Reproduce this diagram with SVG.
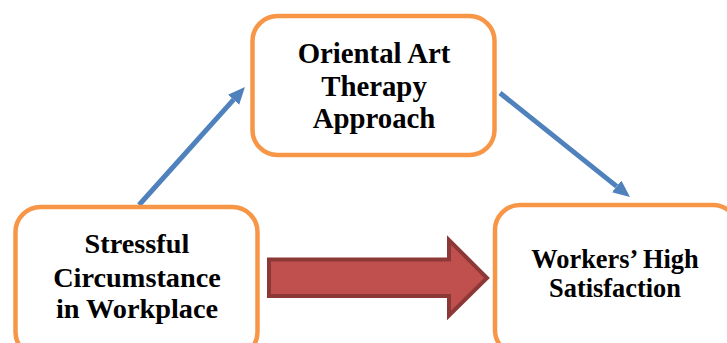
<svg xmlns="http://www.w3.org/2000/svg" width="727" height="343" viewBox="0 0 727 343">
<style>
.box{fill:#fff;stroke:#F79646;stroke-width:4.5}
.t{font-family:'Liberation Serif', 'Times New Roman', serif;font-weight:700;fill:#000;text-anchor:middle}
.blue{stroke:#4F81BD;stroke-width:5;fill:none}
</style>
<defs>
<marker id="ah" markerUnits="userSpaceOnUse" markerWidth="18" markerHeight="16" refX="0" refY="7.5" orient="auto">
<path d="M0,0 L17,7.5 L0,15 z" fill="#4F81BD"/>
</marker>
</defs>
<rect width="727" height="343" fill="#fff"/>
<g id="connectors">
<line class="blue" x1="139" y1="205" x2="233.6" y2="99.7" marker-end="url(#ah)"/>
<line class="blue" x1="500" y1="93" x2="616.7" y2="186.4" marker-end="url(#ah)"/>
<polygon points="269,259.5 449,259.5 449,240 487,278 449,315.5 449,296 269,296" fill="#C0504D" stroke="#8C3836" stroke-width="4" stroke-linejoin="miter"/>
</g>
<g id="node-oriental">
<rect class="box" x="252.5" y="16" width="242" height="139" rx="25"/>
<text class="t" font-size="28.8" x="374" y="63">Oriental Art</text>
<text class="t" font-size="28.8" x="374" y="96">Therapy</text>
<text class="t" font-size="28.8" x="374" y="128">Approach</text>
</g>
<g id="node-stressful">
<rect class="box" x="15.5" y="207" width="242" height="150" rx="25"/>
<text class="t" font-size="28.3" x="137" y="253">Stressful</text>
<text class="t" font-size="28.3" x="137" y="287">Circumstance</text>
<text class="t" font-size="28.3" x="137" y="318">in Workplace</text>
</g>
<g id="node-workers">
<rect class="box" x="495" y="205" width="243" height="150" rx="25"/>
<text class="t" font-size="26.4" x="615" y="268">Workers’ High</text>
<text class="t" font-size="26.4" x="615" y="297">Satisfaction</text>
</g>
</svg>
